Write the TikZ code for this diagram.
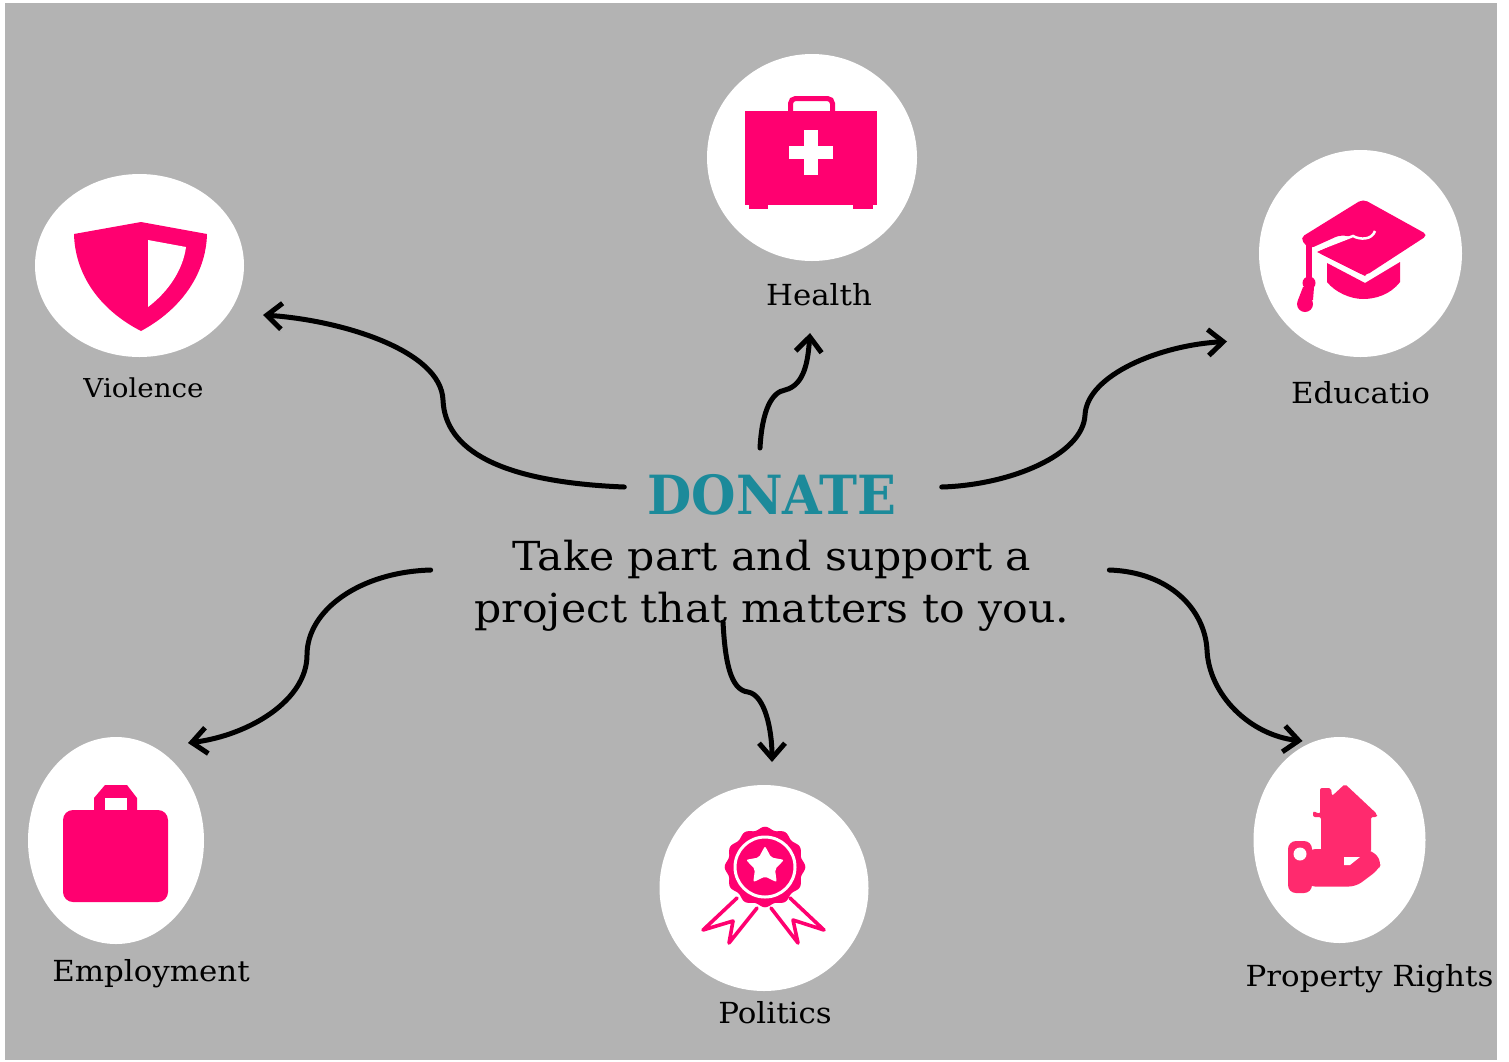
\documentclass[tikz,border=0pt]{standalone}
\usepackage{fontspec}
\setmainfont[FakeStretch=1.065]{DejaVu Serif}
\newfontfamily\titlefont[FakeStretch=.945]{DejaVu Serif}
\usetikzlibrary{shapes.geometric, arrows.meta, positioning, calc}
\definecolor{panelgray}{HTML}{B3B3B3}
\definecolor{iconpink}{HTML}{FF0070}
\definecolor{housepink}{HTML}{FF2A6E}
\definecolor{titleteal}{HTML}{1C8A9A}
\tikzset{
	spot/.style={ellipse, fill=white, inner sep=0pt, outer sep=0pt},
	caption/.style={inner sep=0pt, font=\fontsize{29}{32}\selectfont},
	curvearrow/.style={line width=5pt, line cap=round, -{Straight Barb[length=15pt,width=26pt,line width=5pt]},
		preaction={draw=black!40, opacity=.45, transform canvas={yshift=-2.5pt}}},
}
\begin{document}
\begin{tikzpicture}[x=1pt, y=-1pt]
	\useasboundingbox (0,0) rectangle (1509,1061);
	\fill[panelgray] (5,3) rectangle (1497,1060);

	\node[spot, minimum width=210pt, minimum height=207pt] (health) at (812,157.5) {};
	\node[spot, minimum width=203pt, minimum height=207pt] (education) at (1360.5,253.5) {};
	\node[spot, minimum width=209pt, minimum height=183pt] (violence) at (139.5,265.5) {};
	\node[spot, minimum width=176pt, minimum height=207pt] (employment) at (116,840.5) {};
	\node[spot, minimum width=209pt, minimum height=206pt] (politics) at (764,888) {};
	\node[spot, minimum width=172pt, minimum height=206pt] (property) at (1339.5,840) {};

	\node[caption, below=22pt of health, xshift=7pt] (healthtext) {Health};
	\node[caption, below=24pt of education] (educationtext) {Educatio};
	\node[caption, font=\fontsize{26}{30}\selectfont, below=21pt of violence, xshift=4pt] (violencetext) {Violence};
	\node[caption, below=15pt of employment, xshift=35pt] (employmenttext) {Employment};
	\node[caption, below=10pt of politics, xshift=11pt] (politicstext) {Politics};
	\node[caption, below=21pt of property, xshift=30pt] (propertytext) {Property Rights};

	\node[inner sep=0pt, anchor=base, text=titleteal, font=\fontsize{54}{58}\titlefont\bfseries] (donate) at (772,514) {DONATE};
	\node[inner sep=0pt, anchor=base, font=\fontsize{40}{52}\selectfont] (takepart) at (772,570) {Take part and support a};
	\node[inner sep=0pt, anchor=base, font=\fontsize{40}{52}\selectfont] (project) at (772,622) {project that matters to you.};

	% health
	\draw[iconpink, line width=5pt, rounded corners=5pt] (790.5,111) -- (790.5,98.5) -- (832.5,98.5) -- (832.5,111);
	\fill[iconpink] (745,111) rectangle (877,205);
	\fill[iconpink] (749,205) rectangle (768,209);
	\fill[iconpink] (853,205) rectangle (873,209);
	\fill[white] (789,146) rectangle (833,159);
	\fill[white] (804,130) rectangle (818,175);

	% education
	\fill[iconpink, rounded corners=5pt] (1363,199) -- (1428,235) -- (1365,276) -- (1317,252) -- (1360,238) -- (1340,235) -- (1309,249) -- (1300,238) -- cycle;
	\fill[iconpink] (1317,252) -- (1353,235) -- (1357,229) -- (1375,229) -- (1395,240) -- (1365,276) -- cycle;
	\draw[white, line width=2.5pt] (1317,250) -- (1353,236) .. controls (1360,240) and (1372,240) .. (1375,231);
	\fill[iconpink] (1327,263) -- (1365,283) -- (1400,262) -- (1400,282) .. controls (1390,295) and (1375,299) .. (1363,299) .. controls (1350,299) and (1335,292) .. (1327,282) -- cycle;
	\fill[iconpink] (1306,245) rectangle (1312,280);
	\fill[iconpink] (1309,283) circle (6.5);
	\fill[iconpink] (1305,304) circle (8);
	\fill[iconpink] (1303,287) -- (1314,287) -- (1313,300) -- (1298,300) -- cycle;

	% politics
	\fill[iconpink] plot[domain=0:360, samples=121, smooth] ({765+(38.8+1.5*cos(12*\x))*cos(\x)},{867+(38.8+1.5*cos(12*\x))*sin(\x)}) -- cycle;
	\draw[white, line width=3pt] (765,867) circle (30);
	\node[star, star points=5, star point ratio=1.9, fill=white, inner sep=0pt, minimum size=40pt, rounded corners=2pt] (starmark) at (765,866) {};
	\draw[iconpink, line width=3.6pt, line join=round, line cap=round] (737,898) -- (703,930) -- (733,921) -- (729,943) -- (757,908);
	\draw[iconpink, line width=3.6pt, line join=round, line cap=round] (790,898) -- (824,930) -- (793,920) -- (798,943) -- (771,908);

	% property
	\fill[housepink, rounded corners=2pt] (1320,814) -- (1320,788) -- (1331,788) -- (1332,796) -- (1345,784) -- (1377,814) -- (1377,817) -- (1371,817) -- (1371,852) -- (1321,852) -- (1321,817) -- (1313,817) -- (1313,811) -- cycle;
	\fill[housepink, rounded corners=8pt] (1288,841) rectangle (1312,893);
	\fill[housepink, rounded corners=7pt] (1308,849) -- (1372,850) -- (1382,862) -- (1378,870) -- (1356,886.5) -- (1308,886.5) -- cycle;
	\fill[white] (1300,854) circle (6.5);
	\fill[white] (1344,857) -- (1360,857) -- (1350,865) -- (1344,865) -- cycle;

	% violence
	\fill[iconpink] (141,222) -- (207,234) .. controls (206,275) and (180,310) .. (141,331) .. controls (100,310) and (75,275) .. (74,234) -- cycle;
	\fill[white] (148,240) -- (186,247) .. controls (183,270) and (168,292) .. (148,307) -- cycle;

	% employment
	\fill[iconpink, rounded corners=10pt] (63,810) rectangle (168,902);
	\fill[iconpink] (94,810) -- (94,798) -- (105,785) -- (127,785) -- (137,798) -- (137,810) -- cycle;
	\fill[white] (105,798) rectangle (127,810);

	\coordinate (violencemid) at (443,400);
	\coordinate (healthmid) at (785,390);
	\coordinate (educationmid) at (1085,415);
	\coordinate (employmentmid) at (307,655);
	\coordinate (politicsmid) at (748,692);
	\coordinate (propertymid) at (1207,650);

	\draw[curvearrow] ([xshift=-23pt]donate.west |- 0,487) .. controls (500,482) and (445,450) .. (violencemid) .. controls (441,350) and (340,320) .. ([shift={(19,49.5)}]violence.east);
	\draw[curvearrow] ([shift={(-52,187)}]health.south) .. controls (762,410) and (772,392) .. (healthmid) .. controls (805,385) and (808,360) .. ([shift={(-2,72)}]health.south);
	\draw[curvearrow] ([xshift=45pt]donate.east |- 0,487) .. controls (1010,485) and (1083,455) .. (educationmid) .. controls (1087,375) and (1160,345) .. ([shift={(-32,88)}]education.west);
	\draw[curvearrow] ([xshift=-82pt]takepart.west |- 0,570) .. controls (360,572) and (307,610) .. (employmentmid) .. controls (307,700) and (250,735) .. ([shift={(72,6)}]employment.north);
	\draw[curvearrow] ([xshift=-49pt]project.north |- 0,622) .. controls (725,660) and (730,690) .. (politicsmid) .. controls (765,695) and (772,730) .. ([shift={(8,-23)}]politics.north);
	\draw[curvearrow] ([xshift=78pt]takepart.east |- 0,570) .. controls (1170,572) and (1205,610) .. (propertymid) .. controls (1209,695) and (1250,735) .. ([shift={(-37,4)}]property.north);
\end{tikzpicture}
\end{document}
